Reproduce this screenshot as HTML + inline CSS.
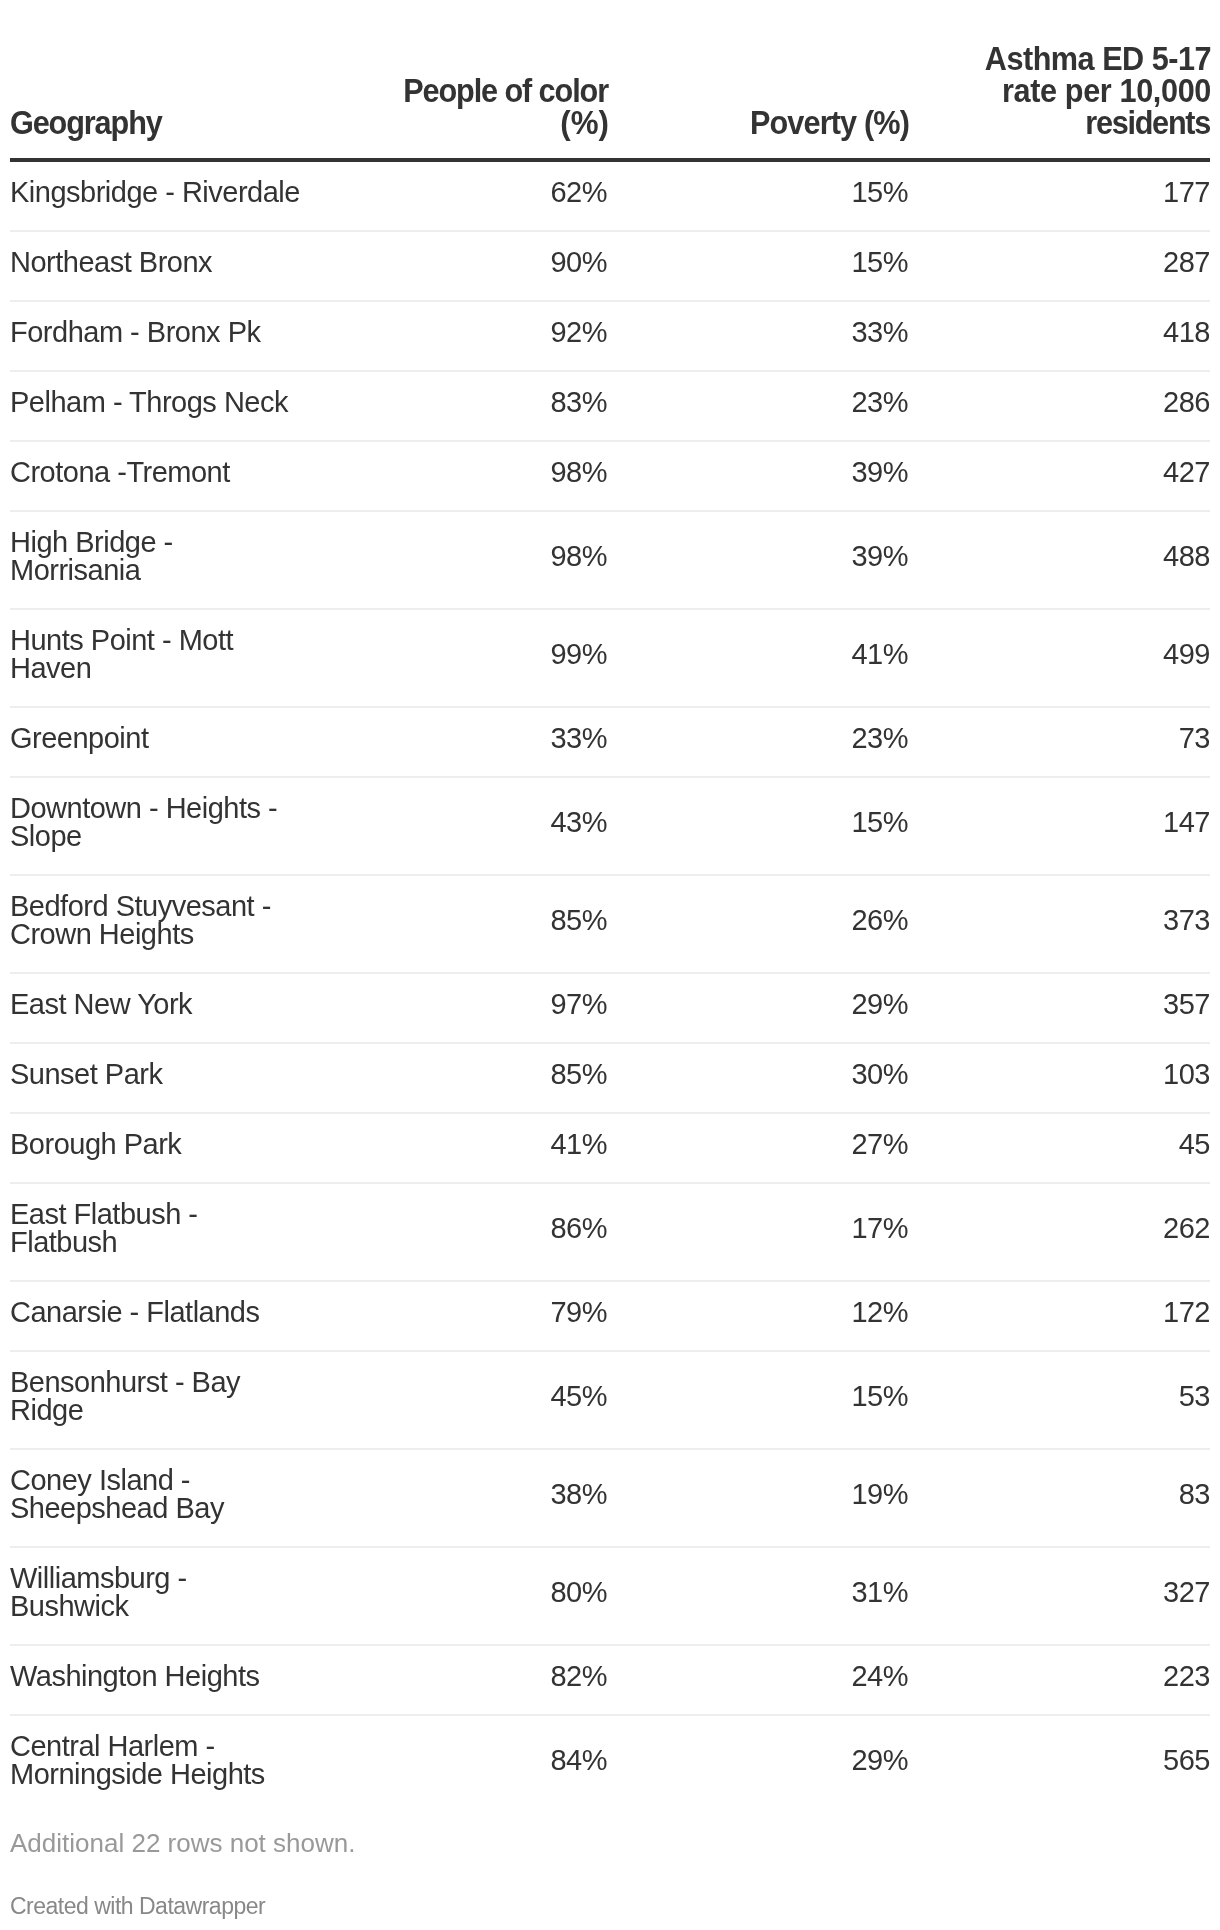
<!DOCTYPE html>
<html><head><meta charset="utf-8">
<style>
html,body{margin:0;padding:0;background:#fff;}
body{width:1220px;height:1930px;overflow:hidden;position:relative;font-family:"Liberation Sans",sans-serif;color:#333;}
table{will-change:transform;position:absolute;left:10px;top:0;width:1200px;border-collapse:collapse;table-layout:fixed;}
col.c1{width:300px}col.c2{width:300px}col.c3{width:300px}col.c4{width:300px}
th{font-weight:bold;font-size:34px;line-height:32px;vertical-align:bottom;padding:0 0 20px 0;border-bottom:4px solid #333;height:160px;box-sizing:border-box;white-space:nowrap;}
th div{white-space:nowrap;}
th.l div{transform-origin:0 50%;}
th.r div{transform-origin:100% 50%;}
td{font-size:29px;line-height:28px;letter-spacing:-0.5px;padding:20px 0;border-top:2px solid #eee;vertical-align:middle;white-space:nowrap;}
tr.first td{border-top:none;}
td span{position:relative;top:-4px;}
.l{text-align:left}
tbody td:nth-child(2){padding-right:3px}
tbody td:nth-child(3){padding-right:2px}
thead th:nth-child(2) div,thead th:nth-child(3) div{position:relative;left:-1px}
thead th:nth-child(4) div{position:relative;left:1px}
.r{text-align:right}
.foot1{will-change:transform;position:absolute;left:10px;top:1830px;font-size:26px;line-height:26px;color:#999;}
.foot2{will-change:transform;position:absolute;left:10px;top:1895px;font-size:23px;line-height:22px;letter-spacing:-0.5px;color:#888;}
</style></head><body>
<table>
<colgroup><col class="c1"><col class="c2"><col class="c3"><col class="c4"></colgroup>
<thead><tr>
<th class="l"><div style="transform:scaleX(.9);letter-spacing:-1.22px">Geography</div></th>
<th class="r"><div style="transform:scaleX(.9);letter-spacing:-1.2px;left:-2px">People of color</div><div style="transform:scaleX(.92)">(%)</div></th>
<th class="r"><div style="transform:scaleX(.9);letter-spacing:-0.94px">Poverty (%)</div></th>
<th class="r"><div style="transform:scaleX(.9);letter-spacing:-0.54px">Asthma ED 5-17</div><div style="transform:scaleX(.9);letter-spacing:-0.39px">rate per 10,000</div><div style="transform:scaleX(.9);letter-spacing:-1.4px;left:0">residents</div></th>
</tr></thead>
<tbody>
<tr class="first"><td class="l"><span>Kingsbridge - Riverdale</span></td><td class="r"><span>62%</span></td><td class="r"><span>15%</span></td><td class="r"><span>177</span></td></tr>
<tr><td class="l"><span>Northeast Bronx</span></td><td class="r"><span>90%</span></td><td class="r"><span>15%</span></td><td class="r"><span>287</span></td></tr>
<tr><td class="l"><span>Fordham - Bronx Pk</span></td><td class="r"><span>92%</span></td><td class="r"><span>33%</span></td><td class="r"><span>418</span></td></tr>
<tr><td class="l"><span>Pelham - Throgs Neck</span></td><td class="r"><span>83%</span></td><td class="r"><span>23%</span></td><td class="r"><span>286</span></td></tr>
<tr><td class="l"><span>Crotona -Tremont</span></td><td class="r"><span>98%</span></td><td class="r"><span>39%</span></td><td class="r"><span>427</span></td></tr>
<tr><td class="l"><span>High Bridge -<br>Morrisania</span></td><td class="r"><span>98%</span></td><td class="r"><span>39%</span></td><td class="r"><span>488</span></td></tr>
<tr><td class="l"><span>Hunts Point - Mott<br>Haven</span></td><td class="r"><span>99%</span></td><td class="r"><span>41%</span></td><td class="r"><span>499</span></td></tr>
<tr><td class="l"><span>Greenpoint</span></td><td class="r"><span>33%</span></td><td class="r"><span>23%</span></td><td class="r"><span>73</span></td></tr>
<tr><td class="l"><span>Downtown - Heights -<br>Slope</span></td><td class="r"><span>43%</span></td><td class="r"><span>15%</span></td><td class="r"><span>147</span></td></tr>
<tr><td class="l"><span>Bedford Stuyvesant -<br>Crown Heights</span></td><td class="r"><span>85%</span></td><td class="r"><span>26%</span></td><td class="r"><span>373</span></td></tr>
<tr><td class="l"><span>East New York</span></td><td class="r"><span>97%</span></td><td class="r"><span>29%</span></td><td class="r"><span>357</span></td></tr>
<tr><td class="l"><span>Sunset Park</span></td><td class="r"><span>85%</span></td><td class="r"><span>30%</span></td><td class="r"><span>103</span></td></tr>
<tr><td class="l"><span>Borough Park</span></td><td class="r"><span>41%</span></td><td class="r"><span>27%</span></td><td class="r"><span>45</span></td></tr>
<tr><td class="l"><span>East Flatbush -<br>Flatbush</span></td><td class="r"><span>86%</span></td><td class="r"><span>17%</span></td><td class="r"><span>262</span></td></tr>
<tr><td class="l"><span>Canarsie - Flatlands</span></td><td class="r"><span>79%</span></td><td class="r"><span>12%</span></td><td class="r"><span>172</span></td></tr>
<tr><td class="l"><span>Bensonhurst - Bay<br>Ridge</span></td><td class="r"><span>45%</span></td><td class="r"><span>15%</span></td><td class="r"><span>53</span></td></tr>
<tr><td class="l"><span>Coney Island -<br>Sheepshead Bay</span></td><td class="r"><span>38%</span></td><td class="r"><span>19%</span></td><td class="r"><span>83</span></td></tr>
<tr><td class="l"><span>Williamsburg -<br>Bushwick</span></td><td class="r"><span>80%</span></td><td class="r"><span>31%</span></td><td class="r"><span>327</span></td></tr>
<tr><td class="l"><span>Washington Heights</span></td><td class="r"><span>82%</span></td><td class="r"><span>24%</span></td><td class="r"><span>223</span></td></tr>
<tr><td class="l"><span>Central Harlem -<br>Morningside Heights</span></td><td class="r"><span>84%</span></td><td class="r"><span>29%</span></td><td class="r"><span>565</span></td></tr>
</tbody>
</table>
<div class="foot1">Additional 22 rows not shown.</div>
<div class="foot2">Created with Datawrapper</div>
</body></html>
